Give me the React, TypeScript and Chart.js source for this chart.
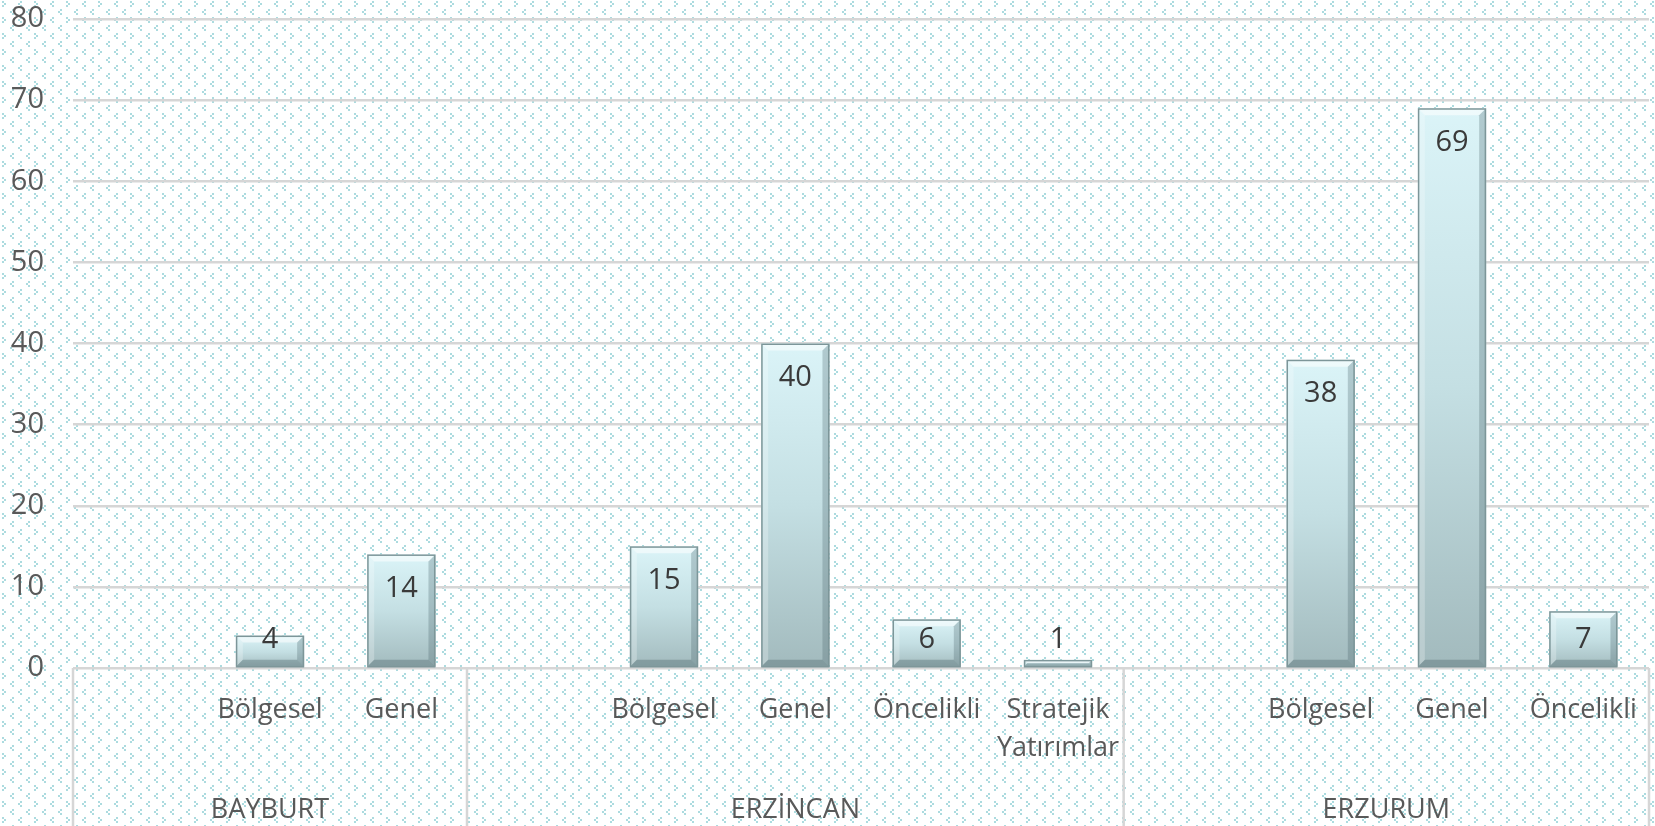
import React, { useEffect, useRef } from "react";
import { Chart, registerables } from "chart.js";

Chart.register(...registerables);

const categories: (string | string[])[] = [
  "", "Bölgesel", "Genel",
  "", "Bölgesel", "Genel", "Öncelikli", ["Stratejik", "Yatırımlar"],
  "", "Bölgesel", "Genel", "Öncelikli",
];
const values: (number | null)[] = [null, 4, 14, null, 15, 40, 6, 1, null, 38, 69, 7];
const groupNames = ["BAYBURT", "ERZİNCAN", "ERZURUM"];
const groupSizes = [3, 5, 4];
const yMin = 0;
const yMax = 80;
const yStep = 10;

const FONT = "'Open Sans', 'Noto Sans', sans-serif";
const AXIS_COLOR = "#595959";
const LINE_COLOR = "#d6d6d6";

function makePattern(ctx: CanvasRenderingContext2D) {
  const c = document.createElement("canvas");
  c.width = 32;
  c.height = 16;
  const p = c.getContext("2d")!;
  p.fillStyle = "#ffffff";
  p.fillRect(0, 0, 32, 16);
  p.fillStyle = "rgb(172,219,223)";
  const blk = (x: number, y: number) => p.fillRect(x, y, 2, 2);
  const right = (x: number, y: number) => { blk(x, y); blk(x + 2, y + 2); blk(x, y + 4); };
  const left = (x: number, y: number) => { blk(x + 2, y); blk(x, y + 2); blk(x + 2, y + 4); };
  right(2, 1);
  left(18, 1);
  left(10, 9);
  left(26, 9);
  return ctx.createPattern(c, "repeat")!;
}

const bgPlugin = {
  id: "bgPattern",
  beforeDraw(chart: any) {
    const ctx = chart.ctx as CanvasRenderingContext2D;
    ctx.save();
    ctx.fillStyle = makePattern(ctx);
    ctx.fillRect(0, 0, chart.width, chart.height);
    ctx.restore();
  },
};

const decorPlugin = {
  id: "decor",
  afterDatasetsDraw(chart: any) {
    const ctx = chart.ctx as CanvasRenderingContext2D;
    const meta = chart.getDatasetMeta(0);
    meta.data.forEach((el: any, i: number) => {
      const v = values[i];
      if (v === null || v === undefined) return;
      const left = el.x - el.width / 2;
      const right = el.x + el.width / 2;
      const top = el.y;
      const base = el.base;
      const h = base - top;
      const b = Math.min(7, h / 2);
      ctx.save();
      ctx.fillStyle = "rgba(255,255,255,0.55)";
      ctx.beginPath();
      ctx.moveTo(left, top); ctx.lineTo(right, top);
      ctx.lineTo(right - b, top + b); ctx.lineTo(left + b, top + b);
      ctx.closePath(); ctx.fill();
      ctx.fillStyle = "rgba(70,95,100,0.28)";
      ctx.beginPath();
      ctx.moveTo(right, top); ctx.lineTo(right, base);
      ctx.lineTo(right - b, base - b); ctx.lineTo(right - b, top + b);
      ctx.closePath(); ctx.fill();
      ctx.fillStyle = "rgba(255,255,255,0.25)";
      ctx.beginPath();
      ctx.moveTo(left, top); ctx.lineTo(left + b, top + b);
      ctx.lineTo(left + b, base - b); ctx.lineTo(left, base);
      ctx.closePath(); ctx.fill();
      ctx.fillStyle = "rgba(70,95,100,0.35)";
      ctx.beginPath();
      ctx.moveTo(left, base); ctx.lineTo(left + b, base - b);
      ctx.lineTo(right - b, base - b); ctx.lineTo(right, base);
      ctx.closePath(); ctx.fill();
      ctx.strokeStyle = "#7d9699";
      ctx.lineWidth = 1.5;
      ctx.strokeRect(left + 0.75, top + 0.75, el.width - 1.5, h - 0.75);
      ctx.fillStyle = "#3a3a3a";
      ctx.font = `29px ${FONT}`;
      ctx.textAlign = "center";
      ctx.textBaseline = "middle";
      const ly = Math.min(top + 34, 640);
      ctx.fillText(String(v), el.x, ly);
      ctx.restore();
    });
  },
  afterDraw(chart: any) {
    const ctx = chart.ctx as CanvasRenderingContext2D;
    const area = chart.chartArea;
    const xs = chart.scales.x;
    const n = categories.length;
    const slot = (area.right - area.left) / n;
    ctx.save();
    ctx.strokeStyle = LINE_COLOR;
    ctx.lineWidth = 2.5;
    let idx = 0;
    const bounds: number[] = [area.left];
    groupSizes.forEach((s) => { idx += s; bounds.push(area.left + idx * slot); });
    bounds.forEach((bx) => {
      ctx.beginPath();
      ctx.moveTo(bx, area.bottom);
      ctx.lineTo(bx, chart.height);
      ctx.stroke();
    });
    ctx.fillStyle = AXIS_COLOR;
    ctx.font = `27px ${FONT}`;
    ctx.textAlign = "center";
    ctx.textBaseline = "middle";
    categories.forEach((lab, i) => {
      const x = xs.getPixelForValue(i);
      const lines = Array.isArray(lab) ? lab : [lab];
      lines.forEach((ln, j) => ctx.fillText(ln, x, 710 + j * 38));
    });
    groupNames.forEach((g, gi) => {
      const x = (bounds[gi] + bounds[gi + 1]) / 2;
      ctx.fillText(g, x, 810);
    });
    ctx.restore();
  },
};

export default function App() {
  const ref = useRef<HTMLCanvasElement | null>(null);
  useEffect(() => {
    document.body.style.margin = "0";
    const canvas = ref.current!;
    const chart = new Chart(canvas, {
      type: "bar",
      data: {
        labels: categories.map((c) => (Array.isArray(c) ? c.join(" ") : c)),
        datasets: [
          {
            data: values as any,
            borderWidth: 0,
            categoryPercentage: 1,
            barPercentage: 0.52,
            backgroundColor: (c: any) => {
              const ch = c.chart;
              const ys = ch.scales?.y;
              const v = c.raw;
              if (!ys || v === null || v === undefined) return "#c0dde0";
              const t = ys.getPixelForValue(v);
              const b = ys.getPixelForValue(0);
              const g = ch.ctx.createLinearGradient(0, t, 0, b);
              g.addColorStop(0, "#dbf4f8");
              g.addColorStop(0.5, "#c4dfe3");
              g.addColorStop(1, "#a2babd");
              return g;
            },
          },
        ],
      },
      options: {
        responsive: false,
        animation: false,
        layout: { padding: { top: 19, bottom: 158, left: 0, right: 6 } },
        plugins: { legend: { display: false }, tooltip: { enabled: false } },
        scales: {
          x: { display: false },
          y: {
            min: yMin,
            max: yMax,
            afterFit: (s: any) => { s.width = 73; s.paddingTop = 0; s.paddingBottom = 0; },
            ticks: {
              stepSize: yStep,
              color: AXIS_COLOR,
              padding: 29,
              font: { family: FONT, size: 29 },
            },
            grid: { color: LINE_COLOR, lineWidth: 2.5, drawTicks: false },
            border: { display: false },
          },
        },
      },
      plugins: [bgPlugin, decorPlugin],
    });
    return () => chart.destroy();
  }, []);
  return <canvas ref={ref} width={1655} height={826} style={{ display: "block" }} />;
}
